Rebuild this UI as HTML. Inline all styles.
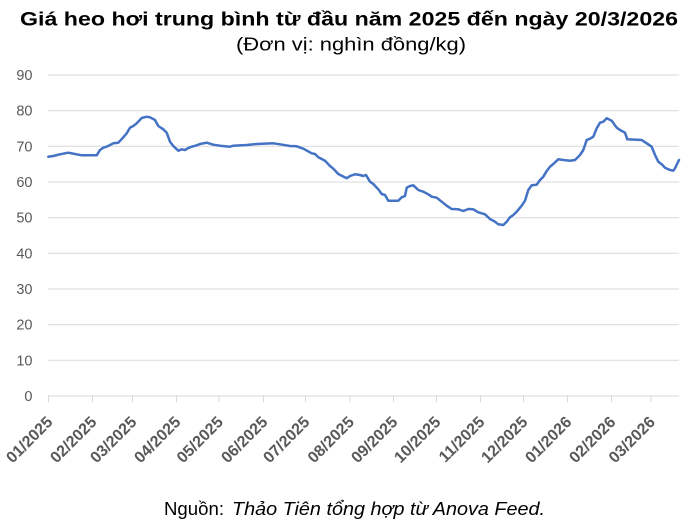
<!DOCTYPE html>
<html>
<head>
<meta charset="utf-8">
<style>
html,body{margin:0;padding:0;background:#fff;}
svg{display:block;}
</style>
</head>
<body>
<svg width="700" height="530" viewBox="0 0 700 530" xmlns="http://www.w3.org/2000/svg">
<rect width="700" height="530" fill="#fff"/>
<!-- Title -->
<text x="20" y="25.5" font-family="'Liberation Sans', sans-serif" font-weight="bold" font-size="19.5" fill="#000" textLength="658" lengthAdjust="spacingAndGlyphs">Giá heo hơi trung bình từ đầu năm 2025 đến ngày 20/3/2026</text>
<text x="236" y="50.5" font-family="'Liberation Sans', sans-serif" font-size="18.5" fill="#000" textLength="230" lengthAdjust="spacingAndGlyphs">(Đơn vị: nghìn đồng/kg)</text>

<!-- Gridlines -->
<g stroke="#d9d9d9" stroke-width="1">
<line x1="48" y1="75" x2="679" y2="75"/>
<line x1="48" y1="110.7" x2="679" y2="110.7"/>
<line x1="48" y1="146.3" x2="679" y2="146.3"/>
<line x1="48" y1="182" x2="679" y2="182"/>
<line x1="48" y1="217.7" x2="679" y2="217.7"/>
<line x1="48" y1="253.3" x2="679" y2="253.3"/>
<line x1="48" y1="289" x2="679" y2="289"/>
<line x1="48" y1="324.7" x2="679" y2="324.7"/>
<line x1="48" y1="360.3" x2="679" y2="360.3"/>
<line x1="48" y1="396" x2="679" y2="396"/>
</g>
<!-- ticks -->
<g stroke="#d9d9d9" stroke-width="1">
<line x1="48.5" y1="396" x2="48.5" y2="402"/>
<line x1="92.5" y1="396" x2="92.5" y2="402"/>
<line x1="132.5" y1="396" x2="132.5" y2="402"/>
<line x1="176.5" y1="396" x2="176.5" y2="402"/>
<line x1="219" y1="396" x2="219" y2="402"/>
<line x1="263.5" y1="396" x2="263.5" y2="402"/>
<line x1="305.5" y1="396" x2="305.5" y2="402"/>
<line x1="350" y1="396" x2="350" y2="402"/>
<line x1="393.5" y1="396" x2="393.5" y2="402"/>
<line x1="436.5" y1="396" x2="436.5" y2="402"/>
<line x1="480.5" y1="396" x2="480.5" y2="402"/>
<line x1="523.5" y1="396" x2="523.5" y2="402"/>
<line x1="567.5" y1="396" x2="567.5" y2="402"/>
<line x1="611.5" y1="396" x2="611.5" y2="402"/>
<line x1="651" y1="396" x2="651" y2="402"/>
</g>

<!-- Y labels -->
<g font-family="'Liberation Sans', sans-serif" font-size="14.5" fill="#595959" text-anchor="end">
<text x="32.5" y="80">90</text>
<text x="32.5" y="115.7">80</text>
<text x="32.5" y="151.3">70</text>
<text x="32.5" y="187">60</text>
<text x="32.5" y="222.7">50</text>
<text x="32.5" y="258.3">40</text>
<text x="32.5" y="294">30</text>
<text x="32.5" y="329.7">20</text>
<text x="32.5" y="365.3">10</text>
<text x="32.5" y="401">0</text>
</g>

<!-- X labels -->
<g font-family="'Liberation Sans', sans-serif" font-size="16" font-weight="bold" fill="#595959" text-anchor="end">
<text transform="translate(53.5,423) rotate(-45)">01/2025</text>
<text transform="translate(97.5,423) rotate(-45)">02/2025</text>
<text transform="translate(137.5,423) rotate(-45)">03/2025</text>
<text transform="translate(181.5,423) rotate(-45)">04/2025</text>
<text transform="translate(224,423) rotate(-45)">05/2025</text>
<text transform="translate(268.5,423) rotate(-45)">06/2025</text>
<text transform="translate(310.5,423) rotate(-45)">07/2025</text>
<text transform="translate(355,423) rotate(-45)">08/2025</text>
<text transform="translate(398.5,423) rotate(-45)">09/2025</text>
<text transform="translate(441.5,423) rotate(-45)">10/2025</text>
<text transform="translate(485.5,423) rotate(-45)">11/2025</text>
<text transform="translate(528.5,423) rotate(-45)">12/2025</text>
<text transform="translate(572.5,423) rotate(-45)">01/2026</text>
<text transform="translate(616.5,423) rotate(-45)">02/2026</text>
<text transform="translate(656,423) rotate(-45)">03/2026</text>
</g>

<!-- Series -->
<polyline fill="none" stroke="#4472C4" stroke-width="2.5" stroke-linejoin="round" stroke-linecap="round" points="
48.3,156.7 53.3,156 58.3,154.7 65,153.3 68.3,152.7 75,154 81.7,155.3 96.7,155.3 100,150 103.3,147.7 106.7,146.7 110,145 113.3,143.3 118.3,142.7 123.3,137.3 126.7,133.3 130,127.7 133.3,126 136.7,123.3 141.7,118 146.7,116.7 150,117.3 155,120 158.3,126 163.3,129.3 166.7,132.7 170,141.7 173.3,146 178.3,150.7 181.7,149.3 185,150 188.3,148 191.7,146.7 196.7,145.3 200,144 206.7,142.7 213.3,144.7 220,145.7 230,146.7 233.3,145.7 246.7,145 256.7,144 273.3,143.3 280,144.3 290,146 296.7,146.3 303.3,148.7 311.7,153.3 315,154 318.3,157.3 325,160.7 330,166 333.3,168.7 338.3,174 346.7,178.3 350,176 355,174.3 360,175 363.3,176 366,175 370,181.7 373.3,184 378.3,189.3 381.7,194 385,195 388.3,200.7 398.3,200.7 401.7,197.3 405,196 406.7,187.7 410,186 413.3,185.3 418.3,190 423.3,191.7 428.3,194.3 431.7,196.7 436.7,197.7 441.7,201.7 446.7,205.7 451.7,209 458.3,209.3 463.3,211 468.3,209 473.3,209.3 478.3,212.3 485,214.3 490,219 495,221.7 498.3,224.3 503.3,225 506.7,221.7 510,217.3 513.3,215 516.7,211.7 521.7,205.7 525,200.7 528.3,190 531.7,185.3 536.7,184.7 540,180 543.3,176.7 546.7,171 550,166.7 553.3,164 558.3,159.3 563.3,160 570,160.7 575,160 580,155 583.3,150 586.7,140 590,138.7 593.3,136.7 596.7,128.3 600,122.7 603.3,121.7 606.7,118.3 611.7,120.7 616.7,127.7 620,130 625,132.7 627.3,139.3 641.7,140 646.7,143.3 651.7,146.7 655,155 658.3,161.7 661.7,164.3 665,167.7 670,170 673.3,170.7 675,168.3 679,160"/>

<!-- Footer -->
<text x="164" y="515" font-family="'Liberation Sans', sans-serif" font-size="18.5" fill="#000" textLength="60" lengthAdjust="spacingAndGlyphs">Nguồn:</text>
<text x="232" y="515" font-family="'Liberation Sans', sans-serif" font-size="18.5" font-style="italic" fill="#000" textLength="313" lengthAdjust="spacingAndGlyphs">Thảo Tiên tổng hợp từ Anova Feed.</text>
</svg>
</body>
</html>
